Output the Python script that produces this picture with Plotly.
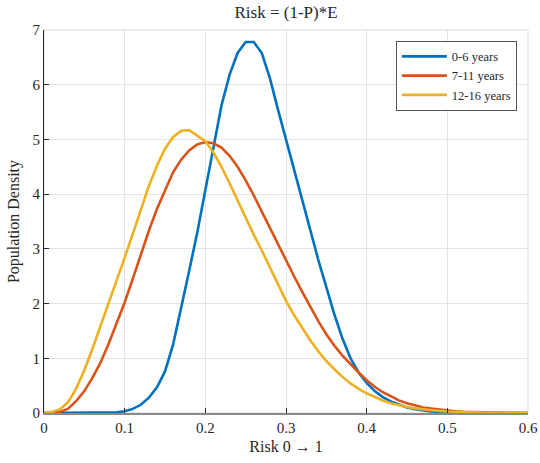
import plotly.graph_objects as go

# risk grid, step 0.01 from 0 to 0.6
risk = [round(i * 0.01, 2) for i in range(61)]

dens_0_6 = [0, 0, 0, 0, 0, 0, 0, 0.001, 0.004, 0.012,
            0.032, 0.075, 0.15, 0.28, 0.47, 0.76, 1.25, 1.90, 2.60, 3.30,
            4.08, 4.90, 5.62, 6.18, 6.58, 6.78, 6.78, 6.58, 6.12, 5.55,
            5.00, 4.45, 3.88, 3.34, 2.80, 2.30, 1.80, 1.36, 1.00, 0.74,
            0.55, 0.40, 0.29, 0.21, 0.15, 0.10, 0.07, 0.045, 0.03, 0.018,
            0.011, 0.006, 0.003, 0.002, 0.001, 0, 0, 0, 0, 0, 0]

dens_7_11 = [0, 0.003, 0.02, 0.08, 0.22, 0.40, 0.64, 0.92, 1.26, 1.63,
             2.02, 2.45, 2.90, 3.33, 3.73, 4.08, 4.40, 4.63, 4.80, 4.91,
             4.95, 4.93, 4.85, 4.70, 4.50, 4.25, 3.98, 3.68, 3.38, 3.08,
             2.78, 2.50, 2.22, 1.95, 1.68, 1.44, 1.23, 1.05, 0.89, 0.74,
             0.60, 0.48, 0.38, 0.30, 0.23, 0.18, 0.14, 0.10, 0.08, 0.06,
             0.045, 0.033, 0.024, 0.017, 0.012, 0.008, 0.006, 0.004, 0.003, 0.002, 0.001]

dens_12_16 = [0, 0.02, 0.07, 0.20, 0.45, 0.78, 1.17, 1.58, 2.00, 2.42,
              2.84, 3.27, 3.72, 4.15, 4.52, 4.83, 5.04, 5.16, 5.17, 5.07,
              4.97, 4.76, 4.50, 4.20, 3.88, 3.55, 3.26, 2.97, 2.67, 2.36,
              2.05, 1.79, 1.55, 1.33, 1.13, 0.95, 0.80, 0.66, 0.54, 0.44,
              0.36, 0.29, 0.23, 0.18, 0.14, 0.11, 0.085, 0.065, 0.05, 0.038,
              0.028, 0.02, 0.015, 0.011, 0.008, 0.005, 0.004, 0.003, 0.002, 0.001, 0.001]

series = [
    ("0-6 years", dens_0_6, "#0072BD"),
    ("7-11 years", dens_7_11, "#D95319"),
    ("12-16 years", dens_12_16, "#EDB120"),
]

font_name = "Liberation Serif"

fig = go.Figure()
for name, dens, col in series:
    fig.add_trace(go.Scatter(x=risk, y=dens, mode="lines", name=name,
                             line=dict(color=col, width=2.6)))

fig.update_layout(
    width=540, height=463,
    margin=dict(l=44, r=12, t=30, b=50),
    paper_bgcolor="white", plot_bgcolor="white",
    font=dict(family=font_name, size=15, color="#262626"),
    title=dict(text="Risk = (1-P)*E", x=0.5, xref="paper", xanchor="center",
               y=1 - 12 / 463, yref="container", yanchor="middle",
               font=dict(size=17, color="#262626")),
    legend=dict(x=0.977, y=0.972, xanchor="right", yanchor="top",
                bgcolor="white", bordercolor="#555555", borderwidth=1,
                font=dict(size=12.5, color="#262626"), itemwidth=45,
                tracegroupgap=0),
    showlegend=True,
)

fig.update_xaxes(range=[0, 0.6], dtick=0.1, tick0=0, automargin=False,
                 showgrid=True, gridcolor="#e3e3e3", gridwidth=1,
                 zeroline=False, showline=True, linecolor="#8a8a8a", linewidth=1.5,
                 ticks="inside", ticklen=5, tickcolor="#262626",
                 tickfont=dict(size=15),
                 title=dict(text="Risk 0 \u2192 1", font=dict(size=16), standoff=6))
fig.update_yaxes(range=[0, 7], dtick=1, tick0=0, automargin=False,
                 showgrid=True, gridcolor="#e3e3e3", gridwidth=1,
                 zeroline=False, showline=True, linecolor="#262626", linewidth=1,
                 ticks="inside", ticklen=5, tickcolor="#262626",
                 tickfont=dict(size=15),
                 title=dict(text="Population Density", font=dict(size=16), standoff=8))

# light box on top/right, like the matlab axes
fig.add_shape(type="rect", xref="paper", yref="paper", x0=0, y0=0, x1=1, y1=1,
              line=dict(color="#d9d9d9", width=1), layer="below")

# page body has an 8px default margin, drop it so the figure sits at 0,0
fig.write_html("out.html", config={"displayModeBar": False},
               post_script="document.body.style.margin='0';")
